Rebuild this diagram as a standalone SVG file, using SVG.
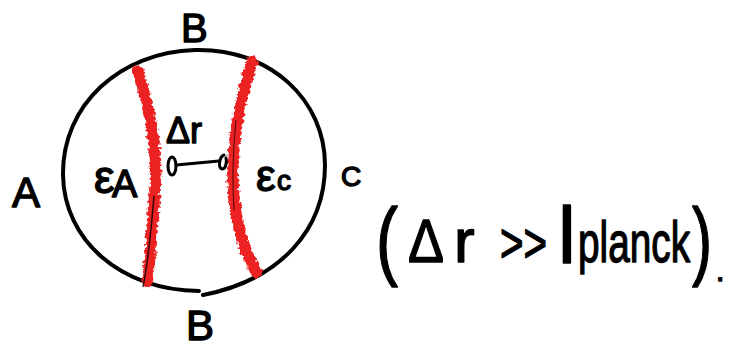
<svg xmlns="http://www.w3.org/2000/svg" width="732" height="348" viewBox="0 0 732 348">
<style>
.ink{fill:none;stroke:#000;stroke-width:4;stroke-linecap:round;stroke-linejoin:round}
.red{fill:none;stroke:#ec2424;stroke-width:8;stroke-linecap:round}
.bead{fill:none;stroke:#ec2424;stroke-width:12;stroke-linecap:round;stroke-dasharray:0 6}
.t{font-family:"Liberation Sans",Arial,sans-serif;fill:#000;stroke:#000;stroke-width:1.4;stroke-linejoin:round}
</style>
<defs>
<filter id="rough" x="-30%" y="-5%" width="160%" height="110%">
<feTurbulence type="fractalNoise" baseFrequency="0.25" numOctaves="2" seed="5"/>
<feDisplacementMap in="SourceGraphic" scale="6" xChannelSelector="R" yChannelSelector="G"/>
</filter>
</defs>
<rect width="732" height="348" fill="#fff"/>
<g id="boundary">
<path class="ink" d="M199 291 C120 290 64 240 63 175 C62 105 120 52 195 50 C270 48 325 100 325 165 C325 230 280 280 203 295"/>
</g>
<g id="surfaces">
<g filter="url(#rough)">
<path class="red" d="M138 72 C150 110 158 150 155 190 C152 230 150 260 147 283"/>
<path class="bead" d="M138 72 C150 110 158 150 155 190 C152 230 150 260 147 283"/>
<path class="red" d="M252 62 C240 100 232 140 233 180 C234 220 245 255 257 273"/>
<path class="bead" d="M252 62 C240 100 232 140 233 180 C234 220 245 255 257 273"/>
</g>
<path d="M143 287 C148 262 151 232 154 196" fill="none" stroke="#000" stroke-width="1.5" opacity="0.8"/>
<path d="M236 120 C233 150 232 180 234 210" fill="none" stroke="#000" stroke-width="1.2" opacity="0.6"/>
</g>
<g id="connectors">
<ellipse cx="172" cy="166" rx="4" ry="9" fill="none" stroke="#000" stroke-width="3"/>
<line x1="176" y1="165" x2="219" y2="161" stroke="#000" stroke-width="3" stroke-linecap="round"/>
<path d="M224 155 C219 157 218 168 222 169 C226 169 227 162 226 158" fill="none" stroke="#000" stroke-width="3" stroke-linecap="round"/>
</g>
<g id="labels">
<text class="t" x="181" y="42" font-size="40">B</text>
<text class="t" x="186" y="340" font-size="42">B</text>
<text class="t" x="12" y="207" font-size="42">A</text>
<text class="t" x="341" y="186" font-size="28">C</text>
<text class="t" x="94" y="193" font-size="46">ε</text>
<text class="t" x="112" y="197" font-size="38">A</text>
<text class="t" x="256" y="191" font-size="44">ε</text>
<text class="t" x="277" y="190" font-size="28">c</text>
<text class="t" x="166" y="143" font-size="36">Δr</text>
</g>
<g id="condition">
<text class="t" x="376" y="269" font-size="88" textLength="22" lengthAdjust="spacingAndGlyphs" stroke-width="0">(</text>
<text class="t" x="408" y="262" font-size="62" textLength="36" lengthAdjust="spacingAndGlyphs">Δ</text>
<text class="t" x="454" y="262" font-size="62">r</text>
<text class="t" x="500" y="262" font-size="56" textLength="47" lengthAdjust="spacingAndGlyphs">&gt;&gt;</text>
<text class="t" x="558" y="263" font-size="80" stroke-width="0">l</text>
<text class="t" x="578" y="262" font-size="58" textLength="112" lengthAdjust="spacingAndGlyphs">planck</text>
<text class="t" x="692" y="269" font-size="88" textLength="20" lengthAdjust="spacingAndGlyphs" stroke-width="0">)</text>
<text class="t" x="716" y="281" font-size="30">.</text>
</g>
</svg>
